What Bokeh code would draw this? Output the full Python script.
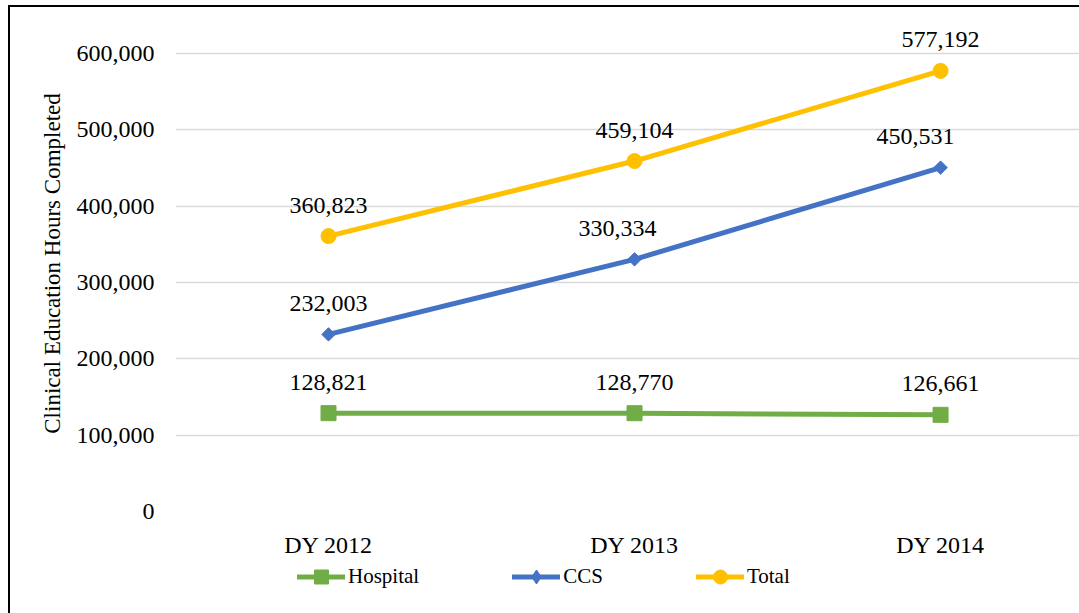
import math
from bokeh.plotting import figure
from bokeh.layouts import column
from bokeh.models import (ColumnDataSource, Range1d, FixedTicker, NumeralTickFormatter,
                          Legend, LegendItem)
from bokeh.core.properties import value
from bokeh.embed import file_html
from bokeh.resources import INLINE

# ---- data ----
categories = ["DY 2012", "DY 2013", "DY 2014"]
hospital = [128821, 128770, 126661]
ccs = [232003, 330334, 450531]
total = [360823, 459104, 577192]
y_ticks = [0, 100000, 200000, 300000, 400000, 500000, 600000]
y_title = "Clinical Education Hours Completed"

# label horizontal nudges (style)
ccs_label_dx = [0, -17, -25]

FONT = "Liberation Serif"
xs = list(range(len(categories)))

p = figure(width=1069, height=554, output_backend="svg", toolbar_location=None,
           x_range=Range1d(-0.5, 2.454), y_range=Range1d(0, 649782),
           min_border_left=165, min_border_right=0, min_border_top=8,
           min_border_bottom=50)
p.outline_line_color = None
p.background_fill_color = "white"
p.border_fill_color = "white"

# axes
p.xaxis.ticker = FixedTicker(ticks=xs)
p.xaxis.major_label_overrides = {i: c for i, c in enumerate(categories)}
p.yaxis.ticker = FixedTicker(ticks=y_ticks)
p.yaxis.formatter = NumeralTickFormatter(format="0,0")
for ax in (p.xaxis, p.yaxis):
    ax.axis_line_color = None
    ax.major_tick_line_color = None
    ax.minor_tick_line_color = None
    ax.major_label_text_font = FONT
    ax.major_label_text_color = "black"
    ax.major_label_text_font_size = "24px"
p.xaxis.major_label_standoff = 14
p.yaxis.major_label_standoff = 15
p.yaxis.axis_label = y_title
p.yaxis.axis_label_text_font = FONT
p.yaxis.axis_label_text_font_size = "23px"
p.yaxis.axis_label_text_font_style = "normal"
p.yaxis.axis_label_text_color = "black"
p.yaxis.axis_label_standoff = 9

p.xgrid.grid_line_color = None
p.ygrid.grid_line_color = "#D9D9D9"
p.ygrid.grid_line_width = 1.5

series = [
    ("Hospital", hospital, "#70AD47", "square", 15, 0, "square", [0, 0, 0]),
    ("CCS", ccs, "#4472C4", "square", 9.5, math.pi / 4, "diamond", ccs_label_dx),
    ("Total", total, "#FFC000", "circle", 15, 0, "circle", [0, 0, 0]),
]

# legend-only strip below the chart (its ranges keep the proxy glyphs out of view)
p2 = figure(width=1069, height=52, output_backend="svg", toolbar_location=None,
            x_range=Range1d(-100, -99), y_range=Range1d(-100, -99),
            min_border_left=0, min_border_right=0, min_border_top=0,
            min_border_bottom=0)
p2.axis.visible = False
p2.grid.visible = False
p2.outline_line_color = None
p2.background_fill_color = "white"
p2.border_fill_color = "white"

items = []
for name, vals, color, marker, size, ang, leg_marker, dx in series:
    src = ColumnDataSource(dict(x=xs, y=vals, lab=[f"{v:,}" for v in vals], dx=dx))
    p.line("x", "y", source=src, line_color=color, line_width=5, line_cap="round",
           line_join="round")
    p.scatter("x", "y", source=src, marker=marker, size=size, angle=ang,
              fill_color=color, line_color=color)
    p.text("x", "y", text="lab", source=src, x_offset="dx", y_offset=-31,
           text_align="center", text_baseline="middle",
           text_font=value(FONT), text_font_size="24px", text_color="black")
    l1 = p2.line("x", "y", source=src, line_color=color, line_width=5, line_cap="round")
    l2 = p2.scatter("x", "y", source=src, marker=leg_marker, size=size,
                    fill_color=color, line_color=color)
    items.append(LegendItem(label=name, renderers=[l1, l2]))

legend = Legend(items=items, orientation="horizontal", location=(122, 19.5),
                glyph_width=48, glyph_height=35, label_standoff=3, spacing=93,
                padding=0, margin=0, border_line_color=None,
                background_fill_alpha=0, label_text_font=FONT,
                label_text_font_size="21px", label_text_color="black")
p2.add_layout(legend, "center")

layout = column(p, p2, spacing=0)
layout.styles = {"margin-left": "8px", "margin-top": "5px",
                 "border-left": "2px solid black", "border-top": "2px solid black"}

open("out.html", "w").write(file_html(layout, INLINE))
